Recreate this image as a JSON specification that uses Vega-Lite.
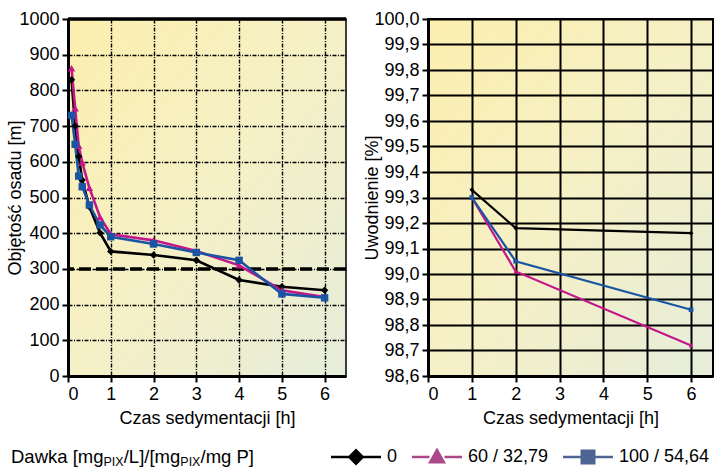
{
  "$schema": "https://vega.github.io/schema/vega-lite/v6.json",
  "padding": {"left": 6, "top": 9, "right": 0, "bottom": 0},
  "background": "white",
  "config": {
    "font": "Liberation Sans",
    "view": {"stroke": "black", "strokeWidth": 1.5},
    "axis": {
      "labelFont": "Liberation Sans", "labelFontSize": 18, "labelColor": "black", "labelOverlap": false,
      "titleFont": "Liberation Sans", "titleFontSize": 18, "titleFontWeight": "normal", "titleColor": "black",
      "domainColor": "black", "domainWidth": 3, "tickColor": "black", "tickWidth": 2, "tickSize": 6,
      "labelPadding": 3, "gridColor": "black", "gridOpacity": 1
    }
  },
  "datasets": {
    "osad": [
      {"dawka": "0", "czas": 0.083, "wartosc": 830},
      {"dawka": "0", "czas": 0.167, "wartosc": 700},
      {"dawka": "0", "czas": 0.25, "wartosc": 615},
      {"dawka": "0", "czas": 0.333, "wartosc": 549},
      {"dawka": "0", "czas": 0.5, "wartosc": 474},
      {"dawka": "0", "czas": 0.75, "wartosc": 401},
      {"dawka": "0", "czas": 1, "wartosc": 349},
      {"dawka": "0", "czas": 2, "wartosc": 339},
      {"dawka": "0", "czas": 3, "wartosc": 324},
      {"dawka": "0", "czas": 4, "wartosc": 269},
      {"dawka": "0", "czas": 5, "wartosc": 250},
      {"dawka": "0", "czas": 6, "wartosc": 240},
      {"dawka": "60 / 32,79", "czas": 0.083, "wartosc": 862},
      {"dawka": "60 / 32,79", "czas": 0.167, "wartosc": 750},
      {"dawka": "60 / 32,79", "czas": 0.25, "wartosc": 645},
      {"dawka": "60 / 32,79", "czas": 0.333, "wartosc": 598},
      {"dawka": "60 / 32,79", "czas": 0.5, "wartosc": 527},
      {"dawka": "60 / 32,79", "czas": 0.75, "wartosc": 445},
      {"dawka": "60 / 32,79", "czas": 1, "wartosc": 397},
      {"dawka": "60 / 32,79", "czas": 2, "wartosc": 380},
      {"dawka": "60 / 32,79", "czas": 3, "wartosc": 350},
      {"dawka": "60 / 32,79", "czas": 4, "wartosc": 310},
      {"dawka": "60 / 32,79", "czas": 5, "wartosc": 240},
      {"dawka": "60 / 32,79", "czas": 6, "wartosc": 221},
      {"dawka": "100 / 54,64", "czas": 0.083, "wartosc": 730},
      {"dawka": "100 / 54,64", "czas": 0.167, "wartosc": 649},
      {"dawka": "100 / 54,64", "czas": 0.25, "wartosc": 560},
      {"dawka": "100 / 54,64", "czas": 0.333, "wartosc": 530},
      {"dawka": "100 / 54,64", "czas": 0.5, "wartosc": 479},
      {"dawka": "100 / 54,64", "czas": 0.75, "wartosc": 423},
      {"dawka": "100 / 54,64", "czas": 1, "wartosc": 390},
      {"dawka": "100 / 54,64", "czas": 2, "wartosc": 370},
      {"dawka": "100 / 54,64", "czas": 3, "wartosc": 346},
      {"dawka": "100 / 54,64", "czas": 4, "wartosc": 324},
      {"dawka": "100 / 54,64", "czas": 5, "wartosc": 230},
      {"dawka": "100 / 54,64", "czas": 6, "wartosc": 219}
    ],
    "uwodnienie": [
      {"dawka": "0", "czas": 1, "wartosc": 99.33},
      {"dawka": "0", "czas": 2, "wartosc": 99.18},
      {"dawka": "0", "czas": 6, "wartosc": 99.16},
      {"dawka": "60 / 32,79", "czas": 1, "wartosc": 99.30},
      {"dawka": "60 / 32,79", "czas": 2, "wartosc": 99.01},
      {"dawka": "60 / 32,79", "czas": 6, "wartosc": 98.72},
      {"dawka": "100 / 54,64", "czas": 1, "wartosc": 99.30},
      {"dawka": "100 / 54,64", "czas": 2, "wartosc": 99.05},
      {"dawka": "100 / 54,64", "czas": 6, "wartosc": 98.86}
    ],
    "legenda": [
      {"dawka": "0"},
      {"dawka": "60 / 32,79"},
      {"dawka": "100 / 54,64"}
    ]
  },
  "resolve": {"scale": {"color": "independent", "shape": "independent"}},
  "spacing": 4,
  "vconcat": [
    {
      "spacing": 13,
      "hconcat": [
        {
          "width": 278,
          "height": 357,
          "view": {"stroke": "black", "strokeWidth": 1.5, "fill": {"gradient": "linear", "x1": 0, "y1": 0, "x2": 1, "y2": 1, "stops": [{"offset": 0, "color": "#fcefae"}, {"offset": 0.5, "color": "#f5f0c6"}, {"offset": 1, "color": "#e6edda"}]}},
          "layer": [
            {
              "data": {"values": [{}]},
              "mark": {"type": "rule", "color": "black", "strokeWidth": 3.5, "strokeDash": [12, 5]},
              "encoding": {"y": {"datum": 300, "type": "quantitative", "title": "Objętość osadu [m]"}}
            },
            {
              "data": {"values": [{}]},
              "mark": {"type": "rule", "color": "black", "strokeWidth": 3.5},
              "encoding": {"y": {"datum": 1000, "type": "quantitative", "title": "Objętość osadu [m]"}}
            },
            {
              "data": {"name": "osad"},
              "mark": {"type": "line", "strokeWidth": 2.6},
              "encoding": {
                "x": {"field": "czas", "type": "quantitative", "title": "Czas sedymentacji [h]",
                  "scale": {"domain": [0, 6.5], "nice": false},
                  "axis": {"values": [0, 1, 2, 3, 4, 5, 6], "tickCount": 20, "grid": true, "gridDash": [4, 1.5, 1, 1.5], "gridWidth": 1.4, "titlePadding": 6, "format": "d"}},
                "y": {"field": "wartosc", "type": "quantitative", "title": "Objętość osadu [m]",
                  "scale": {"domain": [0, 1000], "nice": false},
                  "axis": {"values": [0, 100, 200, 300, 400, 500, 600, 700, 800, 900, 1000], "tickCount": 20, "format": "d", "grid": true, "gridDash": [4, 1.5, 1, 1.5], "gridWidth": 1.4, "titlePadding": -6}},
                "color": {"field": "dawka", "type": "nominal", "legend": null,
                  "scale": {"domain": ["0", "60 / 32,79", "100 / 54,64"], "range": ["#000000", "#c4168b", "#1a55a3"]}}
              }
            },
            {
              "data": {"name": "osad"},
              "mark": {"type": "point", "filled": true, "opacity": 1, "size": 55},
              "encoding": {
                "x": {"field": "czas", "type": "quantitative", "title": "Czas sedymentacji [h]"},
                "y": {"field": "wartosc", "type": "quantitative", "title": "Objętość osadu [m]"},
                "color": {"field": "dawka", "type": "nominal", "legend": null},
                "shape": {"field": "dawka", "type": "nominal", "legend": null,
                  "scale": {"domain": ["0", "60 / 32,79", "100 / 54,64"], "range": ["diamond", "triangle-up", "square"]}}
              }
            }
          ]
        },
        {
          "width": 285,
          "height": 357,
          "view": {"stroke": "black", "strokeWidth": 2, "fill": {"gradient": "linear", "x1": 0, "y1": 0, "x2": 1, "y2": 1, "stops": [{"offset": 0, "color": "#fcefae"}, {"offset": 0.5, "color": "#f5f0c6"}, {"offset": 1, "color": "#e6edda"}]}},
          "layer": [
            {
              "data": {"name": "uwodnienie"},
              "mark": {"type": "line", "strokeWidth": 2.2},
              "encoding": {
                "x": {"field": "czas", "type": "quantitative", "title": "Czas sedymentacji [h]",
                  "scale": {"domain": [0, 6.5], "nice": false},
                  "axis": {"values": [0, 1, 2, 3, 4, 5, 6], "tickCount": 20, "format": "d", "grid": true, "gridWidth": 2, "titlePadding": 6}},
                "y": {"field": "wartosc", "type": "quantitative", "title": "Uwodnienie [%]",
                  "scale": {"domain": [98.6, 100], "nice": false, "zero": false},
                  "axis": {"values": [98.6, 98.7, 98.8, 98.9, 99.0, 99.1, 99.2, 99.3, 99.4, 99.5, 99.6, 99.7, 99.8, 99.9, 100.0], "tickCount": 30,
                    "labelExpr": "replace(format(datum.value, '.1f'), '.', ',')", "grid": true, "gridWidth": 2, "titlePadding": -8}},
                "color": {"field": "dawka", "type": "nominal", "legend": null}
              }
            },
            {
              "data": {"name": "uwodnienie"},
              "mark": {"type": "point", "filled": true, "opacity": 1, "size": 22},
              "encoding": {
                "x": {"field": "czas", "type": "quantitative", "title": "Czas sedymentacji [h]"},
                "y": {"field": "wartosc", "type": "quantitative", "title": "Uwodnienie [%]"},
                "color": {"field": "dawka", "type": "nominal", "legend": null},
                "shape": {"field": "dawka", "type": "nominal", "legend": null}
              }
            }
          ]
        }
      ]
    },
    {
      "width": 12,
      "height": 50,
      "view": {"stroke": null},
      "layer": [
        {
          "data": {"name": "legenda"},
          "transform": [{"filter": "false"}],
          "mark": {"type": "point", "filled": true},
          "encoding": {
            "color": {"field": "dawka", "type": "nominal",
              "scale": {"domain": ["0", "60 / 32,79", "100 / 54,64"], "range": ["#000000", "#a9498a", "#4e6492"]},
              "legend": {"orient": "none", "legendX": 263, "legendY": 0, "direction": "horizontal", "title": null,
                "labelFontSize": 18, "labelColor": "black", "labelFont": "Liberation Sans", "labelOffset": 6, "columnPadding": 14,
                "symbolSize": 2500, "symbolStrokeWidth": 0, "symbolOpacity": 1}},
            "shape": {"field": "dawka", "type": "nominal",
              "scale": {"domain": ["0", "60 / 32,79", "100 / 54,64"], "range": [
                "M-1,-0.05H-0.3V0.05H-1ZM0.3,-0.05H1V0.05H0.3ZM0,-0.34L0.34,0L0,0.34L-0.34,0Z",
                "M-1,-0.05H-0.3V0.05H-1ZM0.3,-0.05H1V0.05H0.3ZM0,-0.38L0.36,0.26L-0.36,0.26Z",
                "M-1,-0.05H-0.3V0.05H-1ZM0.3,-0.05H1V0.05H0.3ZM-0.3,-0.3H0.3V0.3H-0.3Z"]},
              "legend": {"orient": "none", "legendX": 263, "legendY": 0, "direction": "horizontal", "title": null,
                "labelFontSize": 18, "labelColor": "black", "labelFont": "Liberation Sans", "labelOffset": 6, "columnPadding": 14,
                "symbolSize": 2500, "symbolStrokeWidth": 0, "symbolOpacity": 1}}
          }
        },
        {
          "data": {"values": [{}]},
          "layer": [
            {"mark": {"type": "text", "text": "Dawka [mg", "align": "left", "baseline": "middle", "fontSize": 18.5, "dx": -63, "color": "black"}},
            {"mark": {"type": "text", "text": "PIX", "align": "left", "baseline": "middle", "fontSize": 12.5, "dx": 29.5, "dy": 5, "color": "black"}},
            {"mark": {"type": "text", "text": "/L]/[mg", "align": "left", "baseline": "middle", "fontSize": 18.5, "dx": 49.7, "color": "black"}},
            {"mark": {"type": "text", "text": "PIX", "align": "left", "baseline": "middle", "fontSize": 12.5, "dx": 106.3, "dy": 5, "color": "black"}},
            {"mark": {"type": "text", "text": "/mg P]", "align": "left", "baseline": "middle", "fontSize": 18.5, "dx": 126.5, "color": "black"}}
          ]
        }
      ]
    }
  ]
}
